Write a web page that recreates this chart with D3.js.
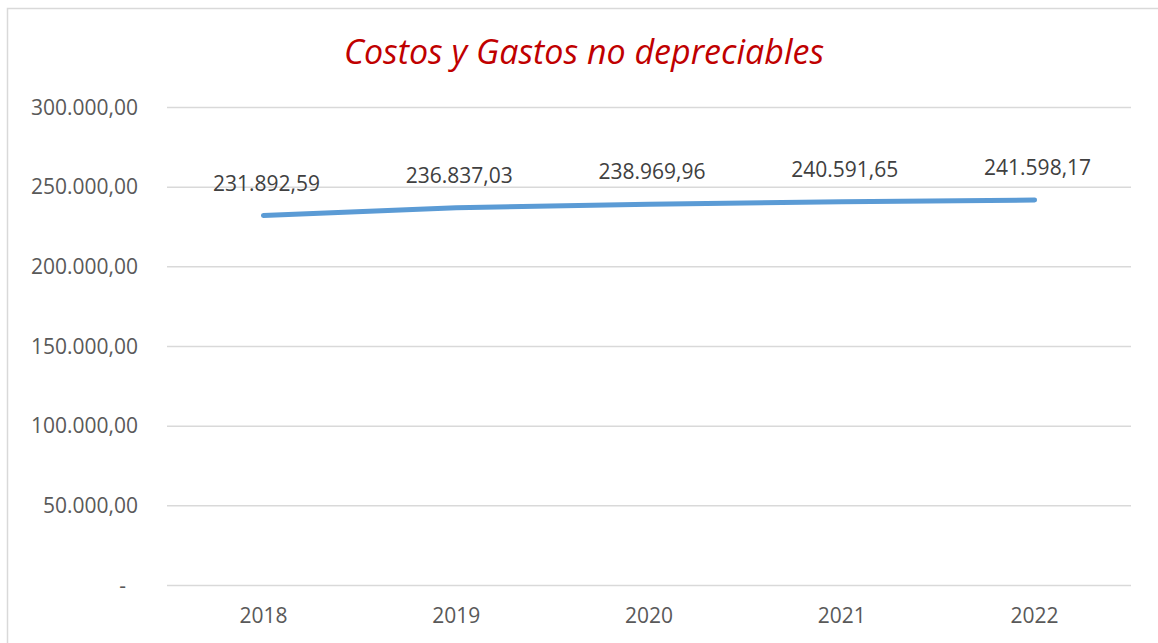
<!DOCTYPE html>
<html>
<head>
<meta charset="utf-8">
<script src="https://cdn.jsdelivr.net/npm/d3@7"></script>
<style>
  html, body { margin: 0; padding: 0; background: #ffffff; }
  svg { display: block; }
</style>
</head>
<body>
<svg id="chart" width="1158" height="643"></svg>
<script>
// Annual non-depreciable costs and expenses
const years = ["2018", "2019", "2020", "2021", "2022"];
const values = [231892.59, 236837.03, 238969.96, 240591.65, 241598.17];
const yTicks = [0, 50000, 100000, 150000, 200000, 250000, 300000];
const titleText = "Costos y Gastos no depreciables";

const W = 1158, H = 643;
const margin = { left: 167, right: 27, top: 107, bottom: 58 };
const svg = d3.select("#chart");
const font = "'Open Sans', 'Liberation Sans', sans-serif";
const textColor = "#595959";

// outer frame
svg.append("rect")
  .attr("x", 7.5).attr("y", 8.5)
  .attr("width", W).attr("height", H)
  .attr("fill", "none").attr("stroke", "#d9d9d9").attr("stroke-width", 1.5);

const x = d3.scaleBand().domain(years).range([margin.left, W - margin.right]);
const y = d3.scaleLinear().domain([0, 300000]).range([H - margin.bottom, margin.top]);

// number format with "." thousands and "," decimals
const loc = d3.formatLocale({ decimal: ",", thousands: ".", grouping: [3], currency: ["", ""] });
const fmt = loc.format(",.2f");

// gridlines + y labels
const yAxis = d3.axisLeft(y).tickValues(yTicks)
  .tickSize(-(W - margin.left - margin.right))
  .tickPadding(29)
  .tickFormat(d => d === 0 ? "-" : fmt(d));
const gy = svg.append("g").attr("transform", `translate(${margin.left},0)`).call(yAxis);
gy.select(".domain").remove();
gy.selectAll(".tick line").attr("stroke", "#d9d9d9").attr("stroke-width", 1.5);
gy.selectAll(".tick text")
  .attr("fill", textColor).attr("font-family", font).attr("font-size", 21)
  .attr("dy", "0.34em");
gy.selectAll(".tick text").filter(d => d === 0).attr("dx", "-12");

// x labels
const xAxis = d3.axisBottom(x).tickSize(0).tickPadding(23);
const gx = svg.append("g").attr("transform", `translate(0,${H - margin.bottom})`).call(xAxis);
gx.select(".domain").remove();
gx.selectAll(".tick text")
  .attr("fill", textColor).attr("font-family", font).attr("font-size", 21);

// series line
const line = d3.line()
  .x((d, i) => x(years[i]) + x.bandwidth() / 2)
  .y(d => y(d));
svg.append("path")
  .datum(values)
  .attr("d", line)
  .attr("fill", "none")
  .attr("stroke", "#5b9bd5")
  .attr("stroke-width", 5)
  .attr("stroke-linecap", "round")
  .attr("stroke-linejoin", "round");

// value labels
svg.append("g").selectAll("text")
  .data(values)
  .join("text")
  .attr("x", (d, i) => x(years[i]) + x.bandwidth() / 2 + 3)
  .attr("y", d => y(d) - 25)
  .attr("text-anchor", "middle")
  .attr("fill", "#404040")
  .attr("font-family", font)
  .attr("font-size", 21)
  .text(d => fmt(d));

// title
svg.append("text")
  .attr("x", 584).attr("y", 64)
  .attr("text-anchor", "middle")
  .attr("fill", "#c00000")
  .attr("font-family", font)
  .attr("font-style", "italic")
  .attr("font-size", 34)
  .text(titleText);
</script>
</body>
</html>
